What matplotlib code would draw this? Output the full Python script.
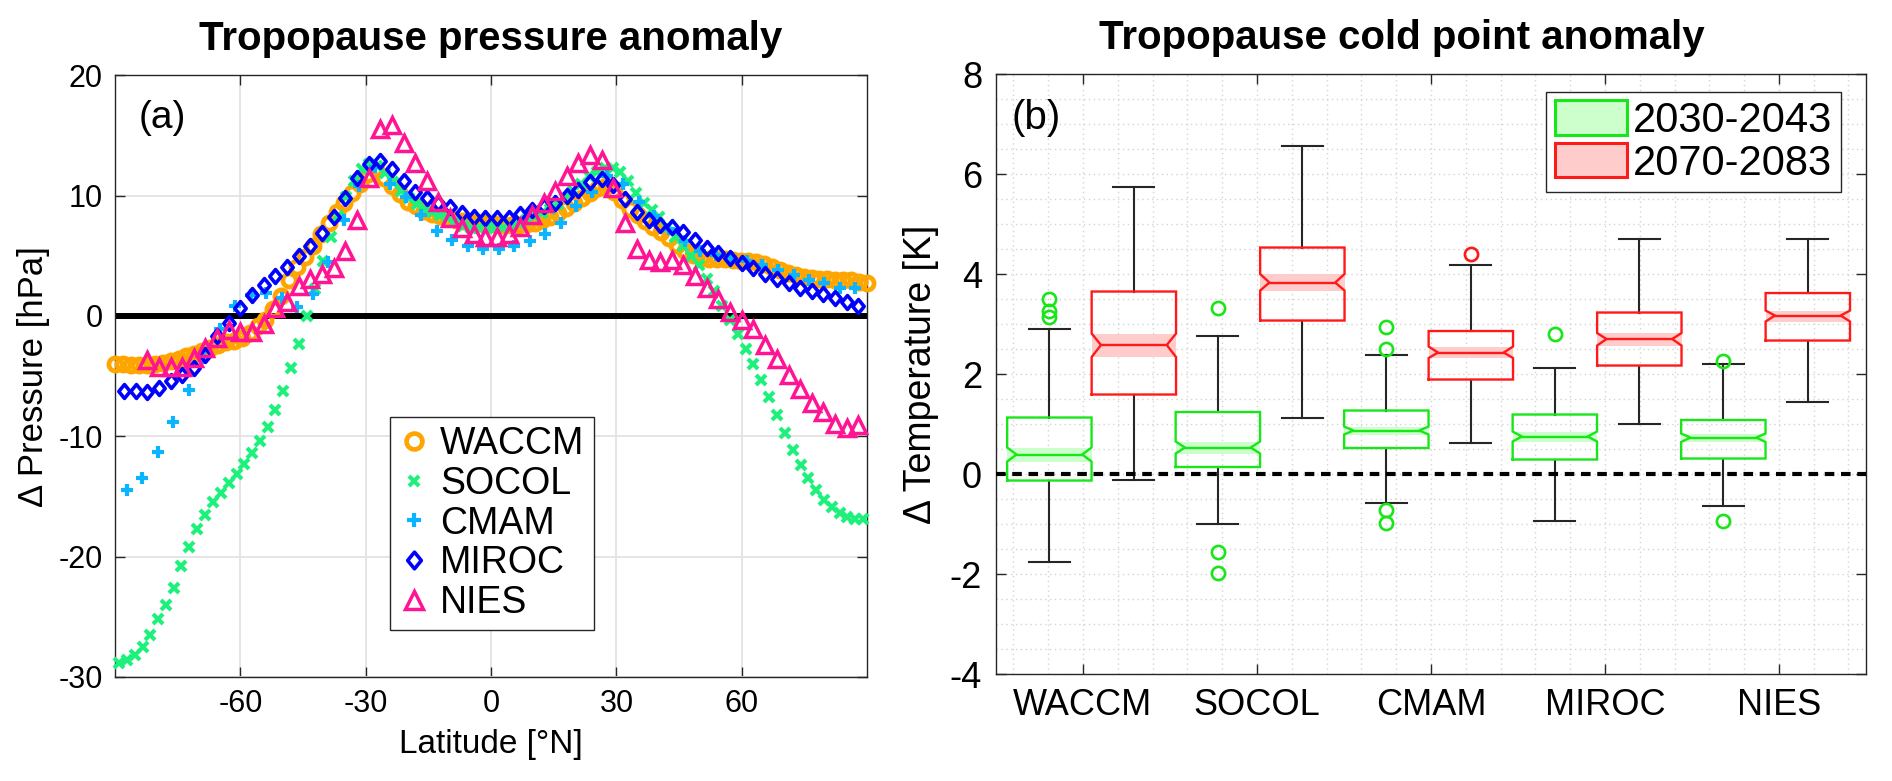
import numpy as np
import matplotlib
matplotlib.use("Agg")
import matplotlib.pyplot as plt
from matplotlib.patches import Patch
from matplotlib.path import Path
from matplotlib.ticker import MultipleLocator

plt.rcParams['font.family'] = ['Liberation Sans', 'DejaVu Sans']
plt.rcParams['axes.unicode_minus'] = False

# ---------------- panel (a): tropopause pressure anomaly [hPa] ----------------
waccm_lat = [-90.0, -88.1, -86.2, -84.3, -82.4, -80.5, -78.6, -76.7, -74.8, -72.9, -71.1, -69.2,
             -67.3, -65.4, -63.5, -61.6, -59.7, -57.8, -55.9, -54.0, -52.1, -50.2, -48.3, -46.4,
             -44.5, -42.6, -40.7, -38.8, -36.9, -35.1, -33.2, -31.3, -29.4, -27.5, -25.6, -23.7,
             -21.8, -19.9, -18.0, -16.1, -14.2, -12.3, -10.4, -8.5, -6.6, -4.7, -2.8, -0.9,
             0.9, 2.8, 4.7, 6.6, 8.5, 10.4, 12.3, 14.2, 16.1, 18.0, 19.9, 21.8,
             23.7, 25.6, 27.5, 29.4, 31.3, 33.2, 35.1, 36.9, 38.8, 40.7, 42.6, 44.5,
             46.4, 48.3, 50.2, 52.1, 54.0, 55.9, 57.8, 59.7, 61.6, 63.5, 65.4, 67.3,
             69.2, 71.1, 72.9, 74.8, 76.7, 78.6, 80.5, 82.4, 84.3, 86.2, 88.1, 90.0]
waccm_dp = [-4.0, -4.0, -4.05, -4.05, -4.05, -4.0, -3.9, -3.75, -3.55, -3.35, -3.15, -2.9,
            -2.65, -2.45, -2.2, -2.05, -1.8, -1.4, -0.85, -0.3, 0.55, 1.7, 3.0, 4.1,
            4.9, 5.8, 6.8, 7.7, 8.6, 9.4, 10.2, 11.0, 11.8, 12.1, 11.5, 10.8,
            10.1, 9.5, 9.1, 8.75, 8.5, 8.3, 8.15, 8.0, 7.9, 7.8, 7.75, 7.7,
            7.65, 7.6, 7.6, 7.6, 7.65, 7.75, 7.95, 8.2, 8.55, 9.0, 9.35, 9.8,
            10.2, 10.6, 10.8, 10.3, 9.6, 8.9, 8.4, 7.85, 7.4, 6.95, 6.45, 5.9,
            5.4, 5.05, 4.85, 4.75, 4.7, 4.7, 4.65, 4.6, 4.55, 4.45, 4.3, 4.1,
            3.85, 3.6, 3.4, 3.25, 3.15, 3.1, 3.05, 3.0, 3.0, 2.95, 2.85, 2.75]

socol_lat = [-89.1, -87.2, -85.3, -83.4, -81.6, -79.7, -77.8, -75.9, -74.1, -72.2, -70.3, -68.4,
             -66.6, -64.7, -62.8, -60.9, -59.1, -57.2, -55.3, -53.4, -51.6, -49.7, -47.8, -45.9,
             -44.1, -42.2, -40.3, -38.4, -36.6, -34.7, -32.8, -30.9, -29.1, -27.2, -25.3, -23.4,
             -21.6, -19.7, -17.8, -15.9, -14.1, -12.2, -10.3, -8.4, -6.6, -4.7, -2.8, -0.9,
             0.9, 2.8, 4.7, 6.6, 8.4, 10.3, 12.2, 14.1, 15.9, 17.8, 19.7, 21.6,
             23.4, 25.3, 27.2, 29.1, 30.9, 32.8, 34.7, 36.6, 38.4, 40.3, 42.2, 44.1,
             45.9, 47.8, 49.7, 51.6, 53.4, 55.3, 57.2, 59.1, 60.9, 62.8, 64.7, 66.6,
             68.4, 70.3, 72.2, 74.1, 75.9, 77.8, 79.7, 81.6, 83.4, 85.3, 87.2, 89.1]
socol_dp = [-28.8, -28.6, -28.2, -27.5, -26.5, -25.2, -24.0, -22.6, -20.8, -19.2, -17.7, -16.5,
            -15.5, -14.7, -13.9, -13.1, -12.3, -11.4, -10.4, -9.2, -7.8, -6.2, -4.3, -2.3,
            0.0, 2.2, 4.6, 6.6, 8.3, 9.9, 11.2, 12.2, 12.6, 12.5, 11.9, 11.1,
            10.4, 9.8, 9.3, 8.9, 8.6, 8.4, 8.1, 7.9, 7.5, 7.35, 7.3, 7.3,
            7.3, 7.35, 7.45, 7.7, 8.0, 8.3, 8.55, 8.9, 9.3, 9.8, 10.4, 11.0,
            11.6, 12.0, 12.3, 12.3, 12.0, 11.2, 10.2, 9.4, 8.8, 8.2, 7.4, 6.6,
            5.8, 5.0, 4.2, 3.1, 2.1, 0.8, -0.35, -1.5, -2.75, -4.0, -5.3, -6.7,
            -8.2, -9.7, -11.1, -12.4, -13.5, -14.5, -15.3, -15.9, -16.4, -16.7, -16.9, -16.9]

cmam_lat = [-87.2, -83.5, -79.8, -76.1, -72.4, -68.7, -64.9, -61.2, -57.5, -53.8, -50.1, -46.4,
            -42.7, -39.0, -35.3, -31.5, -27.8, -24.1, -20.4, -16.7, -13.0, -9.3, -5.6, -1.9,
            1.9, 5.6, 9.3, 13.0, 16.7, 20.4, 24.1, 27.8, 31.5, 35.3, 39.0, 42.7,
            46.4, 50.1, 53.8, 57.5, 61.2, 64.9, 68.7, 72.4, 76.1, 79.8, 83.5, 87.2]
cmam_dp = [-14.5, -13.5, -11.3, -8.8, -6.15, -3.5, -1.1, 0.85, 1.75, 1.9, 1.5, 0.75,
           1.8, 4.5, 8.0, 10.8, 12.4, 11.0, 9.9, 8.4, 7.1, 6.3, 5.8, 5.6,
           5.6, 5.8, 6.2, 6.8, 7.7, 9.1, 10.3, 11.6, 11.0, 9.5, 8.3, 7.2,
           6.2, 5.4, 5.1, 4.9, 4.6, 4.2, 3.8, 3.4, 3.0, 2.7, 2.35, 2.3]

miroc_lat = [-87.9, -85.1, -82.3, -79.5, -76.7, -74.0, -71.2, -68.4, -65.6, -62.8, -60.0, -57.2,
             -54.4, -51.6, -48.8, -46.0, -43.3, -40.5, -37.7, -34.9, -32.1, -29.3, -26.5, -23.7,
             -20.9, -18.1, -15.3, -12.6, -9.8, -7.0, -4.2, -1.4,
             1.4, 4.2, 7.0, 9.8, 12.6, 15.3, 18.1, 20.9, 23.7, 26.5, 29.3, 32.1,
             34.9, 37.7, 40.5, 43.3, 46.0, 48.8, 51.6, 54.4, 57.2, 60.0, 62.8, 65.6,
             68.4, 71.2, 74.0, 76.7, 79.5, 82.3, 85.1, 87.9]
miroc_dp = [-6.2, -6.2, -6.35, -6.0, -5.4, -4.9, -4.35, -3.25, -1.65, -0.6, 0.7, 1.75,
            2.6, 3.3, 4.1, 4.95, 5.85, 6.9, 8.2, 9.8, 11.5, 12.6, 12.9, 12.2,
            11.2, 10.3, 9.8, 9.35, 9.05, 8.55, 8.25, 8.1,
            8.1, 8.1, 8.45, 8.8, 9.1, 9.4, 10.0, 10.5, 11.1, 11.4, 10.9, 9.7,
            8.6, 7.95, 7.6, 7.4, 6.95, 6.3, 5.65, 5.2, 4.85, 4.4, 3.95, 3.45,
            3.05, 2.7, 2.35, 2.1, 1.85, 1.5, 1.2, 0.8]

nies_lat = [-82.3, -79.5, -76.7, -74.0, -71.2, -68.4, -65.6, -62.8, -60.0, -57.2,
            -54.4, -51.6, -48.8, -46.0, -43.3, -40.5, -37.7, -34.9, -32.1, -29.3, -26.5, -23.7,
            -20.9, -18.1, -15.3, -12.6, -9.8, -7.0, -4.2, -1.4,
            1.4, 4.2, 7.0, 9.8, 12.6, 15.3, 18.1, 20.9, 23.7, 26.5, 29.3, 32.1,
            34.9, 37.7, 40.5, 43.3, 46.0, 48.8, 51.6, 54.4, 57.2, 60.0, 62.8, 65.6,
            68.4, 71.2, 74.0, 76.7, 79.5, 82.3, 85.1, 87.9]
nies_dp = [-3.65, -4.2, -4.2, -4.2, -3.5, -2.7, -1.85, -1.15, -1.3, -1.3,
           -0.65, 0.65, 1.2, 2.45, 3.1, 3.5, 3.95, 5.4, 8.0, 11.5, 15.5, 15.9,
           14.35, 12.7, 11.2, 9.5, 8.1, 7.3, 6.85, 6.6,
           6.6, 6.8, 7.4, 8.4, 9.4, 10.35, 11.6, 12.7, 13.4, 13.0, 10.6, 7.7,
           5.6, 4.65, 4.5, 4.65, 4.25, 3.3, 2.3, 1.45, 0.3, -0.3, -1.05, -2.4,
           -3.6, -4.9, -6.1, -7.2, -8.0, -9.0, -9.35, -9.1]

# ---------------- panel (b): cold point anomaly boxes [K] ----------------
models = ['WACCM', 'SOCOL', 'CMAM', 'MIROC', 'NIES']
periods = ['2030-2043', '2070-2083']

green_lo = [-1.75, -1.0, -0.57, -0.93, -0.63]
green_q1 = [-0.13, 0.14, 0.52, 0.29, 0.31]
green_notch_lo = [0.25, 0.41, 0.79, 0.65, 0.64]
green_med = [0.39, 0.53, 0.87, 0.75, 0.73]
green_notch_hi = [0.53, 0.65, 0.95, 0.85, 0.81]
green_q3 = [1.13, 1.24, 1.27, 1.19, 1.08]
green_hi = [2.9, 2.77, 2.39, 2.13, 2.21]
green_out = [[3.5, 3.27, 3.15], [3.33, -1.55, -1.97], [2.95, 2.5, -0.71, -0.97], [2.81], [2.26, -0.93]]

red_lo = [-0.11, 1.13, 0.62, 1.0, 1.45]
red_q1 = [1.59, 3.07, 1.89, 2.17, 2.67]
red_notch_lo = [2.34, 3.67, 2.32, 2.57, 3.05]
red_med = [2.58, 3.83, 2.43, 2.70, 3.17]
red_notch_hi = [2.81, 4.0, 2.55, 2.82, 3.27]
red_q3 = [3.65, 4.53, 2.86, 3.23, 3.62]
red_hi = [5.74, 6.57, 4.19, 4.71, 4.71]
red_out = [[], [], [4.40], [], []]

fig = plt.figure(figsize=(18.92, 7.81), dpi=100)
axc = '#262626'

# ---------- left panel ----------
ax1 = fig.add_axes([0.0608, 0.1332, 0.3975, 0.7704])
ax1.axhline(0, color='black', lw=4.3, zorder=1.5)
diamond = Path([(0, 1), (0.82, 0), (0, -1), (-0.82, 0), (0, 1)], closed=True)
ax1.plot(waccm_lat, waccm_dp, ls='none', marker='o', ms=9.5, mew=3.4, mfc='none',
         mec='#ffa500', color='#ffa500', label='WACCM', clip_on=False, zorder=3)
ax1.plot(socol_lat, socol_dp, ls='none', marker='x', ms=6.5, mew=3.0,
         color='#1ef07c', label='SOCOL', clip_on=False, zorder=3)
ax1.plot(cmam_lat, cmam_dp, ls='none', marker='+', ms=8.5, mew=3.0,
         color='#0ab4ff', label='CMAM', clip_on=False, zorder=3)
ax1.plot(miroc_lat, miroc_dp, ls='none', marker=diamond, ms=10, mew=2.6, mfc='none',
         mec='#0000ff', color='#0000ff', label='MIROC', clip_on=False, zorder=3)
ax1.plot(nies_lat, nies_dp, ls='none', marker='^', ms=11, mew=2.5, mfc='none',
         mec='#ff1493', color='#ff1493', label='NIES', clip_on=False, zorder=3)

ax1.set_xlim(-90, 90)
ax1.set_ylim(-30, 20)
ax1.set_xticks([-60, -30, 0, 30, 60])
ax1.set_yticks([-30, -20, -10, 0, 10, 20])
ax1.grid(True, color='#e3e3e3', lw=1.3, zorder=0)
ax1.set_axisbelow(True)
ax1.tick_params(direction='in', length=7, width=1, colors=axc, labelcolor='black',
                labelsize=22, top=True, right=True, pad=9)
for s in ax1.spines.values():
    s.set_color(axc)
    s.set_linewidth(1.0)
ax1.set_xlabel('Latitude [°N]', fontsize=24, labelpad=7)
ax1.set_ylabel('Δ Pressure [hPa]', fontsize=25, labelpad=6)
ax1.set_title('Tropopause pressure anomaly', fontsize=29, fontweight='bold', pad=18)
ax1.text(0.032, 0.929, '(a)', transform=ax1.transAxes, fontsize=28, ha='left', va='center')
leg1 = ax1.legend(loc='upper left', bbox_to_anchor=(0.365, 0.4326), fontsize=27,
                  numpoints=1, markerscale=1.2, fancybox=False, framealpha=1,
                  edgecolor=axc, borderpad=0.25, labelspacing=0.1, handlelength=0.8,
                  handletextpad=0.3, borderaxespad=0)
leg1.get_frame().set_linewidth(1.0)

# ---------- right panel ----------
ax2 = fig.add_axes([0.5264, 0.1370, 0.4598, 0.7682])
box_w = 0.485
cap_w = 0.237
group_step = 0.9684
green_x0 = 0.807
pair_gap = 0.4856


def draw_box(ax, x, lo, q1, nlo, med, nhi, q3, hi, out, edge, fill):
    l, r = x - box_w / 2, x + box_w / 2
    ind = 0.11 * box_w
    ax.fill([l, r, r, l], [nlo, nlo, nhi, nhi], color=fill, lw=0, zorder=2)
    ax.plot([l, r, r, r - ind, r, r, l, l, l + ind, l, l],
            [q1, q1, nlo, med, nhi, q3, q3, nhi, med, nlo, q1],
            color=edge, lw=1.7, zorder=3, solid_joinstyle='miter')
    ax.plot([l + ind, r - ind], [med, med], color=edge, lw=1.7, zorder=3)
    ax.plot([x, x], [q3, hi], color=axc, lw=1.5, zorder=2.5)
    ax.plot([x, x], [lo, q1], color=axc, lw=1.5, zorder=2.5)
    ax.plot([x - cap_w / 2, x + cap_w / 2], [hi, hi], color=axc, lw=1.5, zorder=2.5)
    ax.plot([x - cap_w / 2, x + cap_w / 2], [lo, lo], color=axc, lw=1.5, zorder=2.5)
    if out:
        ax.plot([x] * len(out), out, ls='none', marker='o', ms=9.5, mfc='none',
                mec=edge, mew=1.9, zorder=3)


green_edge, green_fill = '#19e619', '#ccffcc'
red_edge, red_fill = '#ff1a1a', '#ffcccc'
for i in range(len(models)):
    gx = green_x0 + group_step * i
    draw_box(ax2, gx, green_lo[i], green_q1[i], green_notch_lo[i], green_med[i],
             green_notch_hi[i], green_q3[i], green_hi[i], green_out[i], green_edge, green_fill)
    draw_box(ax2, gx + pair_gap, red_lo[i], red_q1[i], red_notch_lo[i], red_med[i],
             red_notch_hi[i], red_q3[i], red_hi[i], red_out[i], red_edge, red_fill)

ax2.axhline(0, color='black', lw=3.0, ls=(0, (2.3, 1.6)), zorder=4)
ax2.set_xlim(0.5, 5.5)
ax2.set_ylim(-4, 8)
ax2.set_xticks(range(1, len(models) + 1))
ax2.set_xticklabels(models)
ax2.set_yticks([-4, -2, 0, 2, 4, 6, 8])
ax2.xaxis.set_minor_locator(MultipleLocator(0.2))
ax2.yaxis.set_minor_locator(MultipleLocator(0.5))
ax2.grid(True, which='both', color='#d4d4d4', lw=1.0, ls=(0, (1, 2.5)), zorder=0)
ax2.set_axisbelow(True)
ax2.tick_params(which='major', direction='in', length=7, width=1, colors=axc,
                labelcolor='black', labelsize=26, top=True, right=True, pad=10)
ax2.tick_params(which='minor', length=0)
for s in ax2.spines.values():
    s.set_color(axc)
    s.set_linewidth(1.0)
ax2.set_ylabel('Δ Temperature [K]', fontsize=27, labelpad=8)
ax2.set_title('Tropopause cold point anomaly', fontsize=29, fontweight='bold',
              pad=18, x=0.467)
ax2.text(0.018, 0.927, '(b)', transform=ax2.transAxes, fontsize=29, ha='left', va='center')
handles = [Patch(facecolor=green_fill, edgecolor=green_edge, lw=2.2, label=periods[0]),
           Patch(facecolor=red_fill, edgecolor=red_edge, lw=2.2, label=periods[1])]
leg2 = ax2.legend(handles=handles, loc='upper right', bbox_to_anchor=(0.971, 0.97),
                  fontsize=30, fancybox=False, framealpha=1, edgecolor=axc,
                  handlelength=1.73, handleheight=0.89, handletextpad=0.15,
                  labelspacing=0.05, borderpad=0.2, borderaxespad=0)
leg2.get_frame().set_linewidth(1.0)

fig.savefig('out.png', dpi=100)
